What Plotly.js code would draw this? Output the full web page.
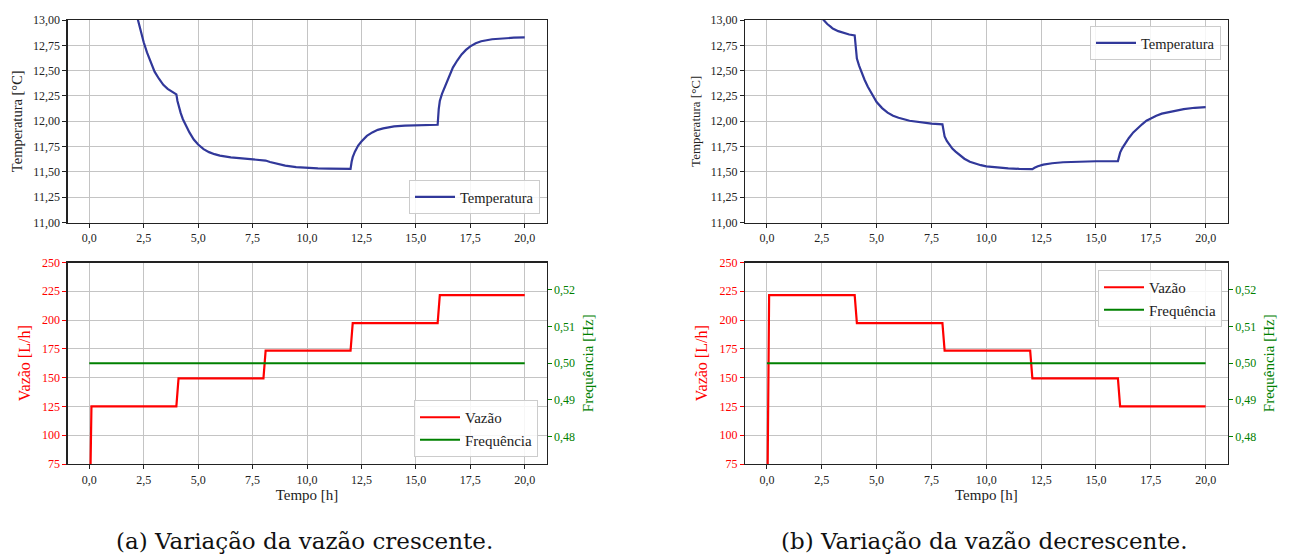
<!DOCTYPE html>
<html>
<head>
<meta charset="utf-8">
<script src="https://cdn.plot.ly/plotly-3.0.1.min.js"></script>
<style>
  html, body { margin: 0; padding: 0; background: #ffffff; }
  #grafico { width: 1290px; height: 554px; }
</style>
</head>
<body>
<div id="grafico"></div>
<script>
// Tempo [h] e temperatura [°C] — ensaio (a), vazão crescente
const tempoTempA = [2.2, 2.35, 2.5, 2.65, 2.8, 3.0, 3.2, 3.4, 3.6, 3.8, 4.0, 4.05, 4.1, 4.2, 4.3, 4.45, 4.6, 4.8, 5.0, 5.25, 5.5, 5.75, 6.0, 6.5, 7.0, 7.5, 8.0, 8.1, 8.3, 8.6, 9.0, 9.5, 10.0, 10.5, 11.0, 11.5, 12.0, 12.05, 12.1, 12.2, 12.35, 12.5, 12.75, 13.0, 13.25, 13.5, 13.75, 14.0, 14.5, 15.0, 15.5, 16.0, 16.05, 16.1, 16.2, 16.35, 16.5, 16.7, 16.9, 17.1, 17.3, 17.5, 17.75, 18.0, 18.5, 19.0, 19.5, 20.0];
const temperaturaA = [13.03, 12.90, 12.78, 12.68, 12.59, 12.49, 12.42, 12.36, 12.32, 12.29, 12.265, 12.20, 12.15, 12.08, 12.02, 11.95, 11.89, 11.82, 11.77, 11.725, 11.695, 11.675, 11.66, 11.643, 11.632, 11.622, 11.616, 11.612, 11.598, 11.58, 11.562, 11.547, 11.539, 11.534, 11.532, 11.531, 11.53, 11.60, 11.645, 11.70, 11.76, 11.80, 11.855, 11.89, 11.915, 11.93, 11.942, 11.949, 11.956, 11.96, 11.963, 11.965, 12.12, 12.20, 12.27, 12.35, 12.44, 12.53, 12.60, 12.66, 12.705, 12.74, 12.77, 12.79, 12.81, 12.82, 12.825, 12.828];

// Tempo [h] e temperatura [°C] — ensaio (b), vazão decrescente
const tempoTempB = [2.5, 2.6, 2.75, 2.9, 3.0, 3.25, 3.5, 3.75, 4.0, 4.05, 4.1, 4.2, 4.3, 4.45, 4.6, 4.8, 5.0, 5.25, 5.5, 5.75, 6.0, 6.5, 7.0, 7.5, 8.0, 8.05, 8.1, 8.2, 8.3, 8.45, 8.6, 8.8, 9.0, 9.25, 9.5, 9.75, 10.0, 10.5, 11.0, 11.5, 12.0, 12.1, 12.2, 12.35, 12.6, 13.0, 13.5, 14.0, 15.0, 16.0, 16.05, 16.1, 16.2, 16.35, 16.5, 16.7, 16.9, 17.1, 17.3, 17.5, 17.75, 18.0, 18.5, 19.0, 19.5, 20.0];
const temperaturaB = [13.02, 12.995, 12.96, 12.935, 12.915, 12.89, 12.87, 12.857, 12.848, 12.70, 12.62, 12.55, 12.49, 12.41, 12.34, 12.26, 12.19, 12.13, 12.085, 12.055, 12.035, 12.005, 11.99, 11.977, 11.97, 11.89, 11.85, 11.805, 11.77, 11.73, 11.70, 11.66, 11.63, 11.60, 11.58, 11.566, 11.555, 11.543, 11.535, 11.53, 11.528, 11.527, 11.54, 11.555, 11.571, 11.585, 11.595, 11.60, 11.605, 11.607, 11.65, 11.69, 11.735, 11.79, 11.835, 11.89, 11.935, 11.97, 12.005, 12.03, 12.055, 12.075, 12.10, 12.12, 12.133, 12.14];

// Degraus de vazão [L/h]
const tempoVazao = [0, 0.1, 4.0, 4.1, 8.0, 8.1, 12.0, 12.1, 16.0, 16.1, 20.0];
const vazaoA = [0, 125, 125, 149.4, 149.4, 173.4, 173.4, 197.4, 197.4, 221.6, 221.6];
const vazaoB = [0, 221.6, 221.6, 197.4, 197.4, 173.4, 173.4, 149.4, 149.4, 125, 125];

// Frequência [Hz], constante nos dois ensaios
const tempoFreq = [0, 20];
const frequencia = [0.5, 0.5];

// Rótulos dos eixos (vírgula decimal)
const ticksTempo = [0, 2.5, 5, 7.5, 10, 12.5, 15, 17.5, 20];
const rotulosTempo = ['0,0', '2,5', '5,0', '7,5', '10,0', '12,5', '15,0', '17,5', '20,0'];
const ticksTemp = [11, 11.25, 11.5, 11.75, 12, 12.25, 12.5, 12.75, 13];
const rotulosTemp = ['11,00', '11,25', '11,50', '11,75', '12,00', '12,25', '12,50', '12,75', '13,00'];
const ticksVazao = [75, 100, 125, 150, 175, 200, 225, 250];
const rotulosVazao = ['75', '100', '125', '150', '175', '200', '225', '250'];
const ticksFreq = [0.48, 0.49, 0.50, 0.51, 0.52];
const rotulosFreq = ['0,48', '0,49', '0,50', '0,51', '0,52'];
const legendas = ['Temperatura', 'Vazão', 'Frequência'];
const legendasPaineis = ['(a) Variação da vazão crescente.', '(b) Variação da vazão decrescente.'];

const W = 1290, H = 554;
const fx = px => px / W;
const fy = py => (H - py) / H;

const SERIF = 'Liberation Serif';
const SERIF_LEGENDA = 'DejaVu Serif';
const AZUL = '#31389a';
const VERMELHO = '#ff0000';
const VERDE = '#008000';
const GRADE = '#c4c4c4';
const EIXO = '#222222';

const domLeft = [fx(67.5), fx(546.5)];
const domRight = [fx(745), fx(1227.6)];
const domTop = [fy(222.5), fy(20)];
const domBottom = [fy(464), fy(262.5)];

function eixoX(domain, anchor, comTitulo) {
  return {
    domain: domain, anchor: anchor, range: [-1, 21],
    tickmode: 'array', tickvals: ticksTempo, ticktext: rotulosTempo,
    ticks: 'outside', ticklen: 4, tickwidth: 1, tickcolor: EIXO,
    showgrid: true, gridcolor: GRADE, gridwidth: 1,
    showline: true, linecolor: EIXO, linewidth: 1.2, mirror: true,
    zeroline: false,
    tickfont: { family: SERIF, size: 12, color: '#222' },
    title: comTitulo ? { text: 'Tempo [h]', font: { family: SERIF, size: 15, color: '#222' }, standoff: 4 } : { text: '' }
  };
}

function eixoTemp(domain, anchor, tamTitulo) {
  return {
    domain: domain, anchor: anchor, range: [11, 13],
    tickmode: 'array', tickvals: ticksTemp, ticktext: rotulosTemp,
    ticks: 'outside', ticklen: 4, tickwidth: 1, tickcolor: EIXO,
    showgrid: true, gridcolor: GRADE, gridwidth: 1,
    showline: true, linecolor: EIXO, linewidth: 1.2, mirror: true,
    zeroline: false,
    tickfont: { family: SERIF, size: 12, color: '#222' },
    title: { text: 'Temperatura [°C]', font: { family: SERIF, size: tamTitulo, color: '#222' }, standoff: 6 }
  };
}

function eixoVazao(domain, anchor) {
  return {
    domain: domain, anchor: anchor, range: [75, 250],
    tickmode: 'array', tickvals: ticksVazao, ticktext: rotulosVazao,
    ticks: 'outside', ticklen: 4, tickwidth: 1, tickcolor: VERMELHO,
    showgrid: true, gridcolor: GRADE, gridwidth: 1,
    showline: true, linecolor: EIXO, linewidth: 1.2, mirror: false,
    zeroline: false,
    tickfont: { family: SERIF, size: 12, color: VERMELHO },
    title: { text: 'Vazão [L/h]', font: { family: SERIF, size: 16, color: VERMELHO }, standoff: 7 }
  };
}

function eixoFreq(overlay, anchor) {
  return {
    overlaying: overlay, anchor: anchor, side: 'right', range: [0.4725, 0.5275],
    tickmode: 'array', tickvals: ticksFreq, ticktext: rotulosFreq,
    ticks: 'outside', ticklen: 4, tickwidth: 1, tickcolor: VERDE,
    showgrid: false,
    showline: true, linecolor: EIXO, linewidth: 1.2,
    zeroline: false,
    tickfont: { family: SERIF, size: 12, color: VERDE },
    title: { text: 'Frequência [Hz]', font: { family: SERIF, size: 15, color: VERDE }, standoff: 8 }
  };
}

const traces = [
  { x: tempoTempA, y: temperaturaA, xaxis: 'x', yaxis: 'y', type: 'scatter', mode: 'lines',
    name: legendas[0], line: { color: AZUL, width: 2.2 }, legend: 'legend' },
  { x: tempoVazao, y: vazaoA, xaxis: 'x2', yaxis: 'y2', type: 'scatter', mode: 'lines',
    name: legendas[1], line: { color: VERMELHO, width: 2.2 }, legend: 'legend2' },
  { x: tempoFreq, y: frequencia, xaxis: 'x2', yaxis: 'y3', type: 'scatter', mode: 'lines',
    name: legendas[2], line: { color: VERDE, width: 2.2 }, legend: 'legend2' },
  { x: tempoTempB, y: temperaturaB, xaxis: 'x3', yaxis: 'y4', type: 'scatter', mode: 'lines',
    name: legendas[0], line: { color: AZUL, width: 2.2 }, legend: 'legend3' },
  { x: tempoVazao, y: vazaoB, xaxis: 'x4', yaxis: 'y5', type: 'scatter', mode: 'lines',
    name: legendas[1], line: { color: VERMELHO, width: 2.2 }, legend: 'legend4' },
  { x: tempoFreq, y: frequencia, xaxis: 'x4', yaxis: 'y6', type: 'scatter', mode: 'lines',
    name: legendas[2], line: { color: VERDE, width: 2.2 }, legend: 'legend4' }
];

function caixaLegenda(x, y, xanchor, yanchor, tam) {
  return {
    x: x, y: y, xref: 'paper', yref: 'paper', xanchor: xanchor, yanchor: yanchor,
    bgcolor: 'rgba(255,255,255,0.85)', bordercolor: '#cccccc', borderwidth: 1,
    font: { family: SERIF, size: tam, color: '#222' }, tracegroupgap: 0, itemwidth: 40
  };
}

const layout = {
  width: W, height: H,
  margin: { l: 0, r: 0, t: 0, b: 0 },
  paper_bgcolor: '#ffffff', plot_bgcolor: '#ffffff',
  font: { family: SERIF },
  showlegend: true,
  xaxis: eixoX(domLeft, 'y', false),
  yaxis: eixoTemp(domTop, 'x', 14.5),
  xaxis2: eixoX(domLeft, 'y2', true),
  yaxis2: eixoVazao(domBottom, 'x2'),
  yaxis3: eixoFreq('y2', 'x2'),
  xaxis3: eixoX(domRight, 'y4', false),
  yaxis4: eixoTemp(domTop, 'x3', 13),
  xaxis4: eixoX(domRight, 'y5', true),
  yaxis5: eixoVazao(domBottom, 'x4'),
  yaxis6: eixoFreq('y5', 'x4'),
  legend: caixaLegenda(fx(540), fy(214), 'right', 'bottom', 14.5),
  legend2: caixaLegenda(fx(538), fy(457), 'right', 'bottom', 15),
  legend3: caixaLegenda(fx(1221), fy(26), 'right', 'top', 14.5),
  legend4: caixaLegenda(fx(1222), fy(270), 'right', 'top', 15),
  annotations: [
    { text: legendasPaineis[0], x: fx(304), y: fy(541), xref: 'paper', yref: 'paper',
      xanchor: 'center', yanchor: 'middle', showarrow: false,
      font: { family: SERIF_LEGENDA, size: 23, color: '#111' } },
    { text: legendasPaineis[1], x: fx(984), y: fy(541), xref: 'paper', yref: 'paper',
      xanchor: 'center', yanchor: 'middle', showarrow: false,
      font: { family: SERIF_LEGENDA, size: 23, color: '#111' } }
  ]
};

Plotly.newPlot('grafico', traces, layout, { staticPlot: true, displayModeBar: false });
</script>
</body>
</html>
